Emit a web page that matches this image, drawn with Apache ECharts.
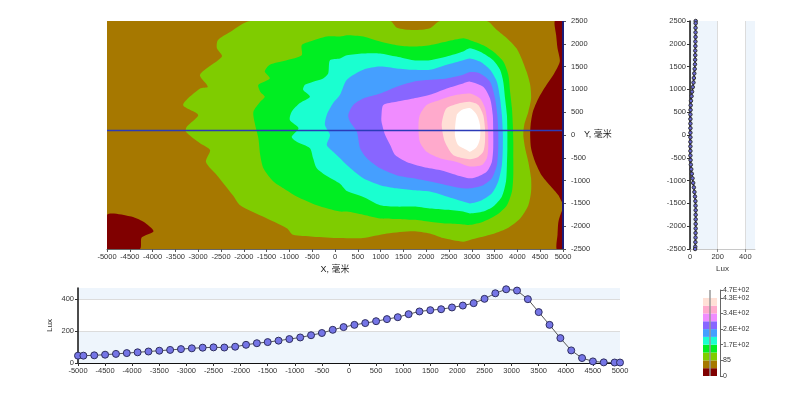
<!DOCTYPE html>
<html>
<head>
<meta charset="utf-8">
<script src="https://cdn.jsdelivr.net/npm/echarts@6/dist/echarts.min.js"></script>
<style>
html, body { margin: 0; padding: 0; background: #fff; }
#chart { width: 792px; height: 397px; }
</style>
</head>
<body>
<div id="chart"></div>
<script>
// illuminance bands (Lux): 11 equal steps from 0 to 470
const levelMax = 470
const levelColors = ['#800000', '#a67800', '#7fcc00', '#00ee22', '#1affd0', '#459fff', '#8866ff', '#f08cff', '#ffaacc', '#ffe0d6', '#ffffff']

// map extent, mm
const mapX = [-5000, 5000]
const mapY = [-2500, 2500]

// band outlines in mm (x, y)
const darkRedLeft = [[-5000,-1750],[-4500,-1780],[-4200,-1900],[-3980,-2110],[-4240,-2250],[-4280,-2500],[-5000,-2500]]
const darkRedRight = [[4820,2500],[4850,2190],[4880,1900],[4930,1610],[4790,1320],[4640,1100],[4460,800],[4340,510],[4290,220],[4280,0],[4300,-290],[4390,-590],[4530,-880],[4710,-1100],[4900,-1320],[4970,-1460],[5000,-1500],[5000,2500]]
const darkRedLow = [[4970,-1680],[4900,-1900],[4880,-2190],[4860,-2500],[5000,-2500],[5000,-1660]]
const band2 = [[-1860,2500],[1210,2500],[1360,2350],[1710,2300],[2080,2340],[2300,2500],[3330,2500],[3550,2300],[3770,2120],[3980,1900],[4090,1680],[4200,1390],[4280,1100],[4300,800],[4240,510],[4150,220],[4130,0],[4170,-290],[4240,-590],[4300,-950],[4300,-1240],[4240,-1540],[4060,-1830],[3770,-2050],[3400,-2190],[2960,-2300],[2810,-2340],[2370,-2260],[2080,-2160],[1710,-2110],[1140,-2160],[610,-2260],[110,-2260],[-480,-2230],[-920,-2190],[-1050,-2050],[-1580,-1790],[-2080,-1540],[-2240,-1320],[-2590,-880],[-2830,-590],[-2740,-330],[-2960,-180],[-3270,70],[-3250,180],[-3000,440],[-3330,660],[-2960,1020],[-2790,1060],[-2960,1320],[-2480,1720],[-2590,1900],[-2570,2080],[-2300,2260]]
const band3 = [[-730,1970],[-550,2050],[-180,2160],[110,2160],[260,2190],[620,2160],[990,2050],[1350,1970],[1710,1940],[2080,1970],[2450,2050],[2810,2120],[2960,2080],[3250,1970],[3470,1830],[3690,1610],[3800,1320],[3840,950],[3880,590],[3900,220],[3910,-150],[3910,-510],[3910,-880],[3880,-1240],[3770,-1540],[3550,-1750],[3250,-1900],[2960,-1970],[2810,-1960],[2450,-1940],[2080,-1900],[1720,-1860],[1350,-1840],[990,-1830],[620,-1750],[260,-1680],[110,-1680],[-400,-1540],[-840,-1350],[-1130,-1170],[-1350,-1020],[-1570,-730],[-1640,-440],[-1680,-70],[-1750,220],[-1790,510],[-1640,730],[-1540,840],[-1640,950],[-1680,1100],[-1430,1240],[-1540,1390],[-1430,1540],[-1060,1640],[-730,1750]]
const band4 = [[-110,1640],[110,1680],[260,1750],[620,1790],[990,1790],[1350,1720],[1720,1640],[2080,1640],[2450,1720],[2810,1830],[2960,1900],[3250,1790],[3470,1640],[3620,1430],[3690,1170],[3730,800],[3770,440],[3780,70],[3780,-290],[3770,-660],[3750,-1020],[3660,-1350],[3470,-1570],[3250,-1680],[2960,-1720],[2810,-1680],[2450,-1640],[2080,-1610],[1720,-1570],[1350,-1570],[990,-1540],[620,-1360],[260,-1230],[110,-1070],[-180,-900],[-400,-730],[-480,-510],[-550,-290],[-840,-150],[-950,-40],[-800,150],[-990,330],[-950,510],[-770,700],[-550,840],[-700,990],[-660,1100],[-480,1170],[-260,1240],[-150,1350]]
const band5 = [[-220,220],[-180,440],[-40,700],[110,880],[260,1210],[620,1430],[990,1500],[1350,1460],[1720,1430],[2080,1430],[2450,1540],[2810,1640],[2960,1680],[3180,1610],[3400,1430],[3550,1170],[3620,800],[3660,440],[3680,70],[3680,-290],[3660,-660],[3580,-1020],[3440,-1280],[3220,-1430],[2960,-1500],[2810,-1460],[2450,-1350],[2080,-1240],[1720,-1210],[1350,-1170],[990,-1100],[620,-950],[260,-660],[110,-510],[-40,-370],[-180,-220],[-110,0]]
const band6 = [[290,440],[400,660],[620,800],[990,910],[1350,1060],[1720,1170],[2080,1210],[2450,1240],[2810,1320],[2960,1380],[3180,1350],[3400,1170],[3510,800],[3560,440],[3580,70],[3580,-290],[3550,-660],[3440,-950],[3250,-1100],[2960,-1170],[2810,-1170],[2450,-1100],[2080,-1020],[1720,-950],[1350,-880],[990,-730],[700,-510],[550,-290],[480,70],[330,290]]
const band7 = [[1020,440],[1060,660],[1350,730],[1720,800],[2080,880],[2450,1020],[2810,1130],[2960,1170],[3250,1060],[3400,800],[3460,440],[3470,70],[3470,-290],[3440,-590],[3330,-800],[3140,-910],[2960,-950],[2670,-880],[2300,-770],[1940,-700],[1570,-590],[1320,-440],[1210,-220],[1100,0],[1020,290]]
const band8 = [[1860,440],[2010,660],[2300,770],[2670,880],[2960,910],[3180,800],[3290,590],[3340,290],[3360,0],[3360,-290],[3330,-510],[3220,-660],[2960,-690],[2670,-590],[2300,-510],[2010,-370],[1860,-150],[1830,220]]
const band9 = [[2380,440],[2450,590],[2740,700],[2960,730],[3140,660],[3250,440],[3290,150],[3290,-150],[3250,-370],[3140,-480],[2960,-530],[2810,-510],[2590,-440],[2410,-150],[2340,220]]
const band10 = [[2670,440],[2780,550],[2960,590],[3110,440],[3180,220],[3180,-70],[3110,-260],[2960,-370],[2890,-330],[2700,-220],[2630,0]]

// section lines through the map
const cutY = 100
const cutX = 5000

// profile along y = cutY
const profileX = [-5000,-4900,-4700,-4500,-4300,-4100,-3900,-3700,-3500,-3300,-3100,-2900,-2700,-2500,-2300,-2100,-1900,-1700,-1500,-1300,-1100,-900,-700,-500,-300,-100,100,300,500,700,900,1100,1300,1500,1700,1900,2100,2300,2500,2700,2900,3100,3300,3500,3700,3900,4100,4300,4500,4700,4900,5000]
const profileXLux = [46,46,48,52,57,62,67,72,77,82,87,92,96,98,97,102,114,124,131,140,150,160,174,188,208,225,239,250,262,275,287,306,323,331,337,348,360,375,402,437,462,454,400,319,239,156,79,31,10,4,3,3]

// profile along x = cutX
const profileY = [2500,2450,2350,2250,2150,2050,1950,1850,1750,1650,1550,1450,1350,1250,1150,1050,950,850,750,650,550,450,350,250,150,50,-50,-150,-250,-350,-450,-550,-650,-750,-850,-950,-1050,-1150,-1250,-1350,-1450,-1550,-1650,-1750,-1850,-1950,-2050,-2150,-2250,-2350,-2450,-2500]
const profileYLux = [41,41,40,40,40,39,39,38,38,37,36,34,31,28,25,20,15,11,7,5,4,3,3,3,3,3,3,3,3,3,3,4,6,9,13,18,23,28,32,36,39,40,41,41,41,41,41,40,40,39,38,37]

const font = "'Liberation Sans', 'Noto Sans CJK SC', sans-serif"
const levelStep = levelMax / levelColors.length

const shapes = [
	{ pts: [[mapX[0], mapY[0]], [mapX[1], mapY[0]], [mapX[1], mapY[1]], [mapX[0], mapY[1]]], level: 1, smooth: 0 },
	{ pts: darkRedLeft, level: 0 },
	{ pts: darkRedRight, level: 0 },
	{ pts: darkRedLow, level: 0 },
	{ pts: band2, level: 2 },
	{ pts: band3, level: 3 },
	{ pts: band4, level: 4 },
	{ pts: band5, level: 5 },
	{ pts: band6, level: 6 },
	{ pts: band7, level: 7 },
	{ pts: band8, level: 8 },
	{ pts: band9, level: 9 },
	{ pts: band10, level: 10 }
]

const chart = echarts.init(document.getElementById('chart'))

const plain = (v) => String(v)
const axisText = { fontSize: 7.5, color: '#333', fontFamily: font, formatter: plain }
const lightBands = { show: true, areaStyle: { color: ['#eef5fc', '#ffffff'] } }

// exponent style used by the colour scale
const sciLabel = (v) => {
	if (v === 0) return '0'
	if (v < 100) return String(Math.round(v))
	const e = Math.floor(Math.log10(v))
	return (v / Math.pow(10, e)).toFixed(1) + 'E+' + String(e).padStart(2, '0')
}

const legendSeries = levelColors.map((c, i) => ({
	type: 'bar',
	xAxisIndex: 3,
	yAxisIndex: 3,
	stack: 'scale',
	barWidth: '100%',
	silent: true,
	data: [levelStep],
	itemStyle: { color: c },
	markLine: i === 0 ? {
		silent: true,
		symbol: 'none',
		label: { show: false },
		lineStyle: { color: '#999', width: 1.5, type: 'solid' },
		data: [{ xAxis: 0 }]
	} : undefined
}))

const option = {
	animation: false,
	textStyle: { fontFamily: font },
	grid: [
		{ left: 107, top: 21, width: 456, height: 228 },
		{ left: 690, top: 21, width: 65, height: 228 },
		{ left: 78, top: 288, width: 542, height: 75 },
		{ left: 703, top: 290, width: 14, height: 86 }
	],
	xAxis: [
		{
			gridIndex: 0, type: 'value', min: mapX[0], max: mapX[1], interval: 500,
			axisLine: { show: true, onZero: false, lineStyle: { color: '#666' } },
			axisTick: { show: true, length: 3, lineStyle: { color: '#555' } },
			axisLabel: { ...axisText, margin: 4 },
			splitLine: { show: false },
			name: 'X, 毫米', nameLocation: 'middle', nameGap: 16, nameMoveOverlap: false,
			nameTextStyle: { fontSize: 9, color: '#222', fontFamily: font }
		},
		{
			gridIndex: 1, type: 'value', min: 0, max: levelMax, interval: 200,
			axisLine: { show: true, onZero: false, lineStyle: { color: '#c8c8c8' } },
			axisTick: { show: true, length: 3, lineStyle: { color: '#888' } },
			axisLabel: { ...axisText, margin: 4, showMaxLabel: false },
			splitLine: { show: true, showMaxLine: false, lineStyle: { color: '#dcdcdc' } },
			splitArea: lightBands,
			name: 'Lux', nameLocation: 'middle', nameGap: 16, nameMoveOverlap: false,
			nameTextStyle: { fontSize: 8, color: '#333', fontFamily: font }
		},
		{
			gridIndex: 2, type: 'value', min: mapX[0], max: mapX[1], interval: 500,
			axisLine: { show: true, onZero: false, lineStyle: { color: '#111' } },
			axisTick: { show: true, length: 3, lineStyle: { color: '#333' } },
			axisLabel: { ...axisText, margin: 4 },
			splitLine: { show: false }
		},
		{
			gridIndex: 3, type: 'category', data: [''], show: false
		}
	],
	yAxis: [
		{
			gridIndex: 0, type: 'value', position: 'right', min: mapY[0], max: mapY[1], interval: 500,
			axisLine: { show: false, onZero: false },
			axisTick: { show: true, length: 3, lineStyle: { color: '#555' } },
			axisLabel: { ...axisText, margin: 8 },
			splitLine: { show: false },
			name: 'Y, 毫米', nameLocation: 'middle', nameRotate: 0, nameGap: 21, nameMoveOverlap: false,
			nameTextStyle: { fontSize: 9, color: '#222', fontFamily: font, align: 'left' }
		},
		{
			gridIndex: 1, type: 'value', min: mapY[0], max: mapY[1], interval: 500,
			axisLine: { show: true, onZero: false, lineStyle: { color: '#111', width: 1.5 } },
			axisTick: { show: true, length: 3, lineStyle: { color: '#333' } },
			axisLabel: { ...axisText, margin: 4 },
			splitLine: { show: false }
		},
		{
			gridIndex: 2, type: 'value', min: 0, max: levelMax, interval: 200,
			axisLine: { show: true, onZero: false, lineStyle: { color: '#111', width: 1.5 } },
			axisTick: { show: true, length: 3, lineStyle: { color: '#333' } },
			axisLabel: { ...axisText, margin: 4, showMaxLabel: false },
			splitLine: { show: true, showMaxLine: false, lineStyle: { color: '#dcdcdc' } },
			splitArea: lightBands,
			name: 'Lux', nameLocation: 'middle', nameGap: 24, nameMoveOverlap: false,
			nameTextStyle: { fontSize: 8, color: '#333', fontFamily: font }
		},
		{
			gridIndex: 3, type: 'value', position: 'right', offset: 3, min: 0, max: levelMax, interval: levelStep * 2,
			axisLine: { show: true, onZero: false, lineStyle: { color: '#666' } },
			axisTick: { show: true, length: 3, lineStyle: { color: '#666' } },
			axisLabel: { ...axisText, fontSize: 7, margin: 3, showMaxLabel: true, formatter: sciLabel },
			splitLine: { show: false }
		}
	],
	series: [
		{
			type: 'custom',
			xAxisIndex: 0,
			yAxisIndex: 0,
			clip: true,
			silent: true,
			data: shapes.map((s, i) => [i, 0]),
			renderItem: (params, api) => {
				const s = shapes[api.value(0)]
				return {
					type: 'polygon',
					shape: { points: s.pts.map(p => api.coord(p)), smooth: s.smooth === 0 ? 0 : 0.25 },
					style: { fill: levelColors[s.level] }
				}
			}
		},
		{
			type: 'line',
			xAxisIndex: 0,
			yAxisIndex: 0,
			silent: true,
			symbol: 'none',
			data: [[mapX[0], cutY], [mapX[1], cutY]],
			lineStyle: { color: '#2b3bb8', width: 1.5 }
		},
		{
			type: 'line',
			xAxisIndex: 0,
			yAxisIndex: 0,
			silent: true,
			clip: false,
			symbol: 'none',
			data: [[cutX, mapY[0]], [cutX, mapY[1]]],
			lineStyle: { color: '#1c1c78', width: 2 }
		},
		{
			type: 'line',
			xAxisIndex: 1,
			yAxisIndex: 1,
			data: profileY.map((y, i) => [profileYLux[i], y]),
			symbol: 'circle',
			symbolSize: 3.5,
			lineStyle: { color: '#111', width: 1.5 },
			itemStyle: { color: '#6a6ad8', borderColor: '#333', borderWidth: 1 }
		},
		{
			type: 'line',
			xAxisIndex: 2,
			yAxisIndex: 2,
			data: profileX.map((x, i) => [x, profileXLux[i]]),
			symbol: 'circle',
			symbolSize: 7,
			lineStyle: { color: '#555', width: 1 },
			itemStyle: { color: '#7575e6', borderColor: '#2e2e60', borderWidth: 1 }
		},
		...legendSeries
	]
}

chart.setOption(option)
</script>
</body>
</html>
